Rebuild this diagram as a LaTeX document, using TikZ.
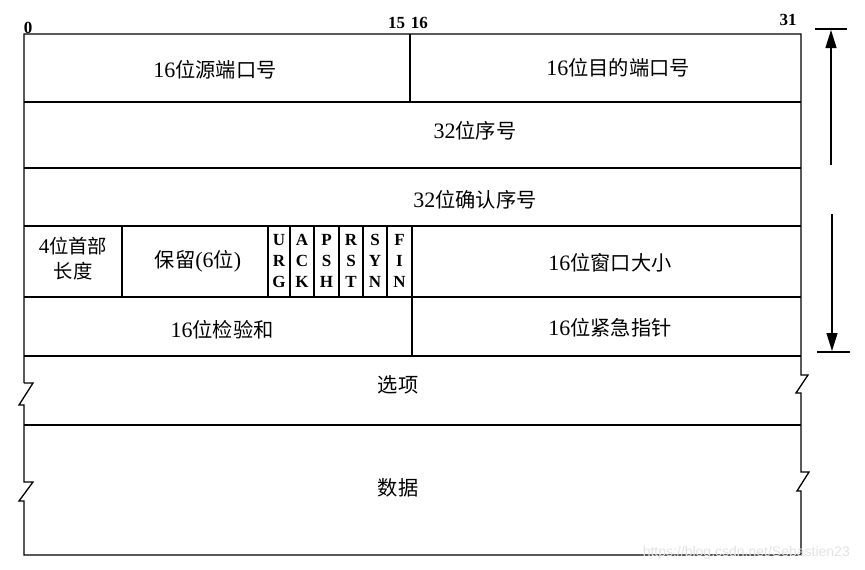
\documentclass[tikz,border=0pt]{standalone}
\usepackage{fontspec}
\setmainfont{Liberation Serif}
\newfontfamily\cjk{Noto Sans CJK SC}[Scale=0.92]
\newfontfamily\wm{Liberation Sans}
\usetikzlibrary{arrows.meta}
\begin{document}
\begin{tikzpicture}[x=1pt,y=-1pt,
  box/.style={draw=black,line width=1.3pt},
  lbl/.style={font=\fontsize{22}{24}\selectfont,inner sep=0pt},
  flag/.style={font=\fontsize{17}{21}\selectfont\bfseries,align=center,inner sep=0pt},
  bitnum/.style={font=\fontsize{17}{18}\selectfont\bfseries,inner sep=0pt},
  dim/.style={line width=1.4pt},
  tip/.style={-{Triangle[width=11pt,length=18pt]}}]
\useasboundingbox (0,0) rectangle (865,570);
% outline with zigzags
\draw[box] (24,383) -- (24,34) -- (801,34) -- (801,375) -- (808,375) -- (796,393) -- (801,393)
  -- (801,472) -- (809,472) -- (797,491) -- (801,491) -- (801,555) -- (24,555) -- (24,501)
  -- (19,501) -- (33,482) -- (24,482) -- (24,405) -- (19,405) -- (33,383) -- (24,383);
% horizontal lines
\foreach \y in {102,168,226,297,356,425} \draw[box] (24,\y) -- (801,\y);
% vertical dividers
\draw[box] (410,34) -- (410,102);
\draw[box] (122,226) -- (122,297);
\foreach \x in {268,290,314,339,363,387} \draw[box] (\x,226) -- (\x,297);
\draw[box] (412,226) -- (412,356);
% bit numbers
\node[bitnum,anchor=base] (b0) at (28,33) {0};
\node[bitnum,anchor=base] (b15) at (408,28) {15\,\,16};
\node[bitnum,anchor=base] (b31) at (788,25) {31};
% field labels
\node[lbl] (src) at (215,70) {16{\cjk 位源端口号}};
\node[lbl] (dst) at (618,68) {16{\cjk 位目的端口号}};
\node[lbl] (seq) at (475,131) {32{\cjk 位序号}};
\node[lbl] (ack) at (475,200) {32{\cjk 位确认序号}};
\node[lbl,align=center,font=\fontsize{21}{25}\selectfont] (hlen) at (73,259) {4{\cjk 位首部}\\{\cjk 长度}};
\node[lbl] (res) at (198,261) {{\cjk 保留}(6{\cjk 位})};
\node[flag] (urg) at (279,261) {U\\R\\G};
\node[flag] (ackf) at (302,261) {A\\C\\K};
\node[flag] (psh) at (326.5,261) {P\\S\\H};
\node[flag] (rst) at (351,261) {R\\S\\T};
\node[flag] (syn) at (375,261) {S\\Y\\N};
\node[flag] (fin) at (399.5,261) {F\\I\\N};
\node[lbl] (win) at (610,263) {16{\cjk 位窗口大小}};
\node[lbl] (chk) at (222,330) {16{\cjk 位检验和}};
\node[lbl] (urp) at (610,328) {16{\cjk 位紧急指针}};
\node[lbl] (opt) at (398,385) {{\cjk 选项}};
\node[lbl] (data) at (398,488) {{\cjk 数据}};
% header length dimension
\coordinate (t1) at (815,29);
\coordinate (t2) at (847,29);
\coordinate (b1) at (817,352);
\coordinate (b2) at (850,352);
\coordinate (au) at (831,30);
\coordinate (am) at (831,165);
\coordinate (bm) at (832,214);
\coordinate (bd) at (832,351);
\draw[dim] (t1) -- (t2);
\draw[dim] (b1) -- (b2);
\draw[dim,tip] (am) -- (au);
\draw[dim,tip] (bm) -- (bd);
% watermark
\node[font=\wm\fontsize{14}{16}\selectfont,text=gray!22,anchor=east,inner sep=0pt] (wmk) at (850,553) {https://blog.csdn.net/Sebastien23};
\end{tikzpicture}
\end{document}
